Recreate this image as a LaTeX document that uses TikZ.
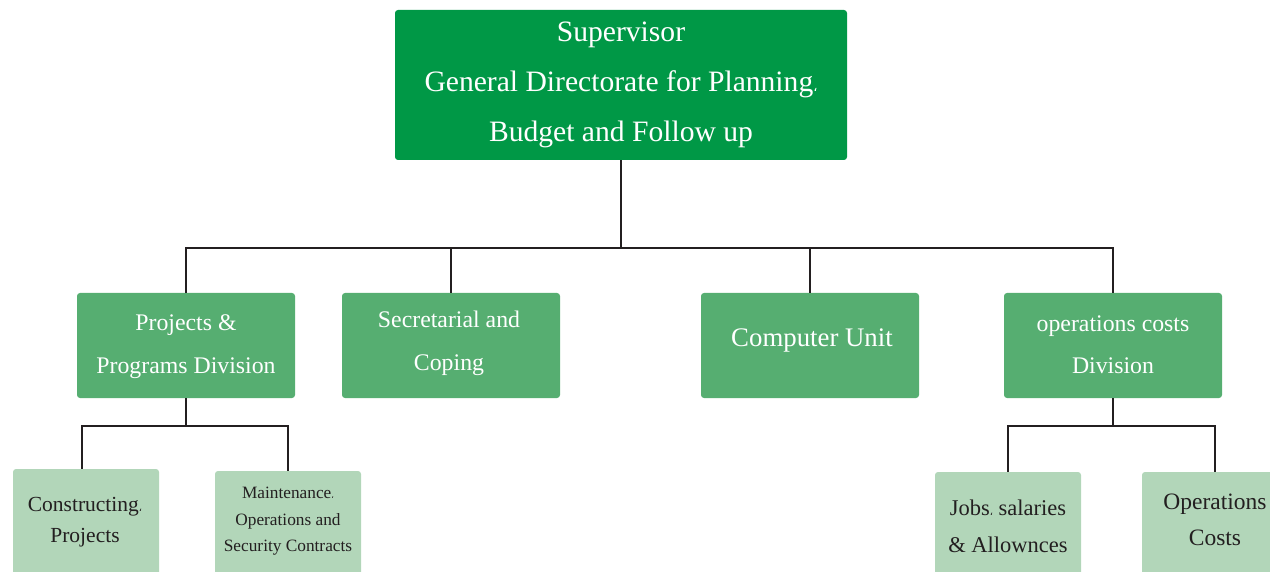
\documentclass[tikz,border=0pt]{standalone}
\usepackage{fontspec}
\setmainfont{Liberation Serif}
\newfontfamily\commafont{DejaVu Sans}
% Arabic comma as it appears after some words
\newcommand\acomma[1]{{\commafont\fontsize{#1}{#1}\selectfont ،}}
\definecolor{headgreen}{RGB}{0,152,70}
\definecolor{midgreen}{RGB}{86,174,113}
\definecolor{lightgreen}{RGB}{178,214,185}
\definecolor{linegray}{RGB}{35,31,32}
\begin{document}
\begin{tikzpicture}[x=1pt,y=-1pt,
  box/.style={rectangle,rounded corners=3pt,inner sep=0pt,draw=none},
  headbox/.style={box,fill=headgreen,minimum width=452pt,minimum height=150pt},
  divbox/.style={box,fill=midgreen,minimum width=218pt,minimum height=105pt},
  unitbox/.style={box,fill=lightgreen,minimum width=146pt,minimum height=112pt},
  wtext/.style={text=white,align=center,inner sep=0pt},
  dtext/.style={text=linegray,align=center,inner sep=0pt},
  link/.style={draw=linegray,line width=2.6pt}]
\useasboundingbox (0,0) rectangle (1270,572);
\clip (0,0) rectangle (1270,572);

% boxes
\node[headbox] (sup) at (621,85) {};
\node[divbox] (proj) at (186,345.5) {};
\node[divbox] (sec) at (451,345.5) {};
\node[divbox] (comp) at (810,345.5) {};
\node[divbox] (ops) at (1113,345.5) {};
\node[unitbox] (cons) at (86,525) {};
\node[unitbox] (maint) at (288,527) {};
\node[unitbox] (jobs) at (1008,528) {};
\node[unitbox] (opc) at (1215,528) {};

% connectors
\coordinate (bus) at (0,248);
\coordinate (pbus) at (0,426);
\coordinate (obus) at (0,426);
\draw[link] (sup.south) -- (sup.south |- bus);
\draw[link] (proj.north) -- (proj.north |- bus) -- (ops.north |- bus) -- (ops.north);
\draw[link] (sec.north) -- (sec.north |- bus);
\draw[link] (comp.north) -- (comp.north |- bus);
\coordinate (consin) at ([xshift=-4pt]cons.north);
\draw[link] (proj.south) -- (proj.south |- pbus);
\draw[link] (consin) -- (consin |- pbus) -- (maint.north |- pbus) -- (maint.north);
\draw[link] (ops.south) -- (ops.south |- obus);
\draw[link] (jobs.north) -- (jobs.north |- obus) -- (opc.north |- obus) -- (opc.north);

% labels
\node[wtext,font=\fontsize{29.6}{50}\selectfont] (suptxt) at (621,85)
  {Supervisor\\General Directorate for Planning\acomma{13}\\Budget and Follow up};
\node[wtext,font=\fontsize{23.8}{43}\selectfont] (projtxt) at (186,346.5)
  {Projects \&\\Programs Division};
\node[wtext,font=\fontsize{23.8}{43}\selectfont] (sectxt) at (449,343.5)
  {Secretarial and\\Coping};
\node[wtext,font=\fontsize{26.8}{43}\selectfont] (comptxt) at (812,340)
  {Computer Unit};
\node[wtext,font=\fontsize{23.8}{42}\selectfont] (opstxt) at (1113,345)
  {operations costs\\Division};
\node[dtext,font=\fontsize{21.5}{31}\selectfont] (constxt) at (85,522.5)
  {Constructing\acomma{10}\\Projects};
\node[dtext,font=\fontsize{17.3}{26.5}\selectfont] (mainttxt) at (288,521.5)
  {Maintenance\acomma{8}\\Operations and\\Security Contracts};
\node[dtext,font=\fontsize{22.5}{37}\selectfont] (jobstxt) at (1008,526)
  {Jobs\acomma{10} salaries\\\& Allownces};
\node[dtext,font=\fontsize{23.5}{36}\selectfont] (opctxt) at (1215,520)
  {Operations\\Costs};
\end{tikzpicture}
\end{document}
